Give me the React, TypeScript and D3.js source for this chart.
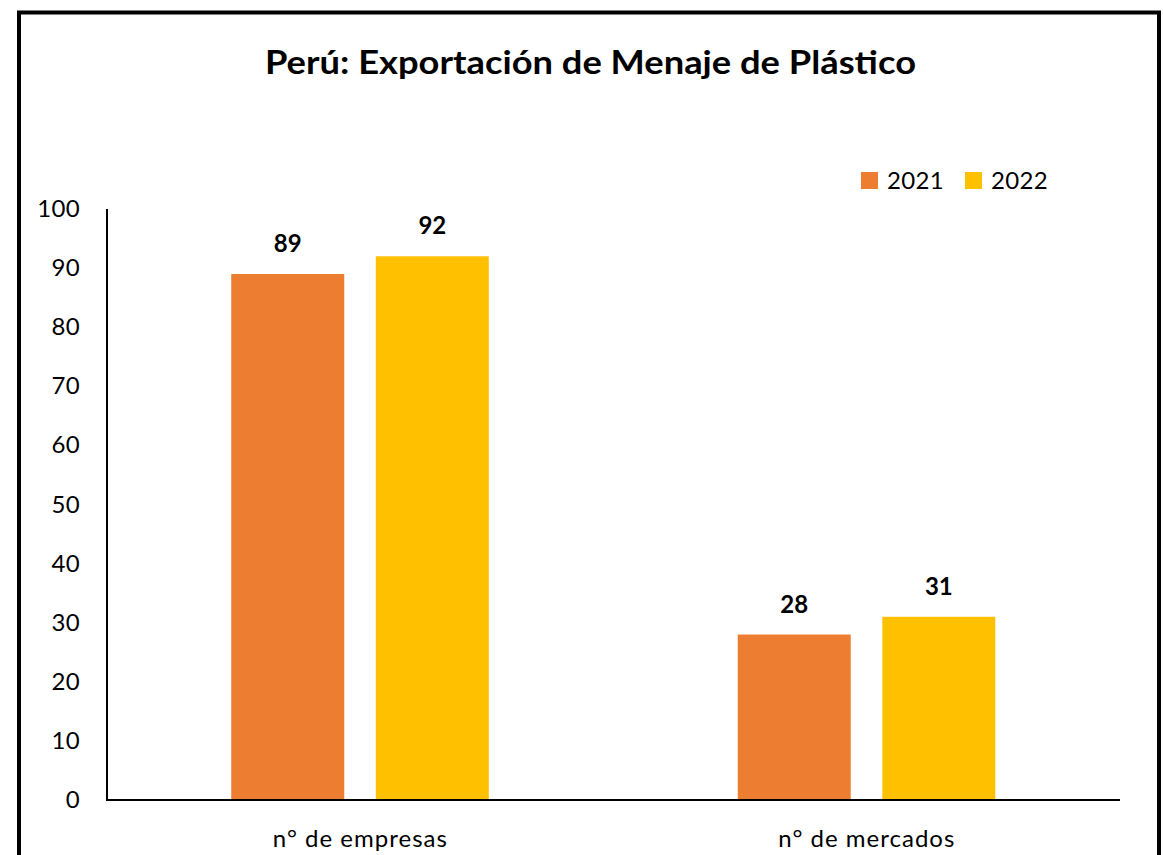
import React from "react";
import * as d3 from "d3";

const categories = ["n° de empresas", "n° de mercados"];
const seriesNames = ["2021", "2022"];
const values2021 = [89, 28];
const values2022 = [92, 31];
const yTicks = [0, 10, 20, 30, 40, 50, 60, 70, 80, 90, 100];
const colors = ["#ED7D31", "#FFC000"];

const W = 1163;
const H = 855;
const FONT = "Lato, 'Open Sans', sans-serif";

export default function App() {
  const series = [values2021, values2022];
  const x0 = d3.scaleBand<string>().domain(categories).range([107, 1120]).paddingInner(0).paddingOuter(0);
  const y = d3.scaleLinear().domain([0, 100]).range([800, 209]);
  const groupW = 258;
  const barW = 113;
  const x1 = d3.scaleBand<string>().domain(seriesNames).range([0, groupW]).paddingInner(31 / 144).paddingOuter(0);

  return (
    <svg width={W} height={H} style={{ position: "absolute", left: 0, top: 0, display: "block" }}>
      <rect x={0} y={0} width={W} height={H} fill="#fff" />
      <rect x={19} y={12.5} width={1140} height={900} fill="#fff" stroke="#000" strokeWidth={4} />
      <text x={265} y={74} textLength={651} lengthAdjust="spacingAndGlyphs" fontFamily={FONT} fontWeight="bold" fontSize={33} fill="#000">
        Perú: Exportación de Menaje de Plástico
      </text>
      {/* legend */}
      {seriesNames.map((s, i) => {
        const lx = [861, 965][i];
        return (
          <g key={s}>
            <rect x={lx} y={172} width={17} height={17} fill={colors[i]} />
            <text x={lx + 26} y={189} fontFamily={FONT} fontSize={24} letterSpacing={0.3} fill="#000">{s}</text>
          </g>
        );
      })}
      {/* y ticks */}
      {yTicks.map((t) => (
        <text key={t} x={80} y={y(t) + 8} textAnchor="end" fontFamily={FONT} fontSize={24} letterSpacing={0.3} fill="#000">{t}</text>
      ))}
      {/* bars */}
      {categories.map((c, ci) => {
        const gx = (x0(c) as number) + (x0.bandwidth() - groupW) / 2;
        return (
          <g key={c}>
            {seriesNames.map((s, si) => {
              const v = series[si][ci];
              const bx = gx + (x1(s) as number);
              return (
                <g key={s}>
                  <rect x={bx} y={y(v)} width={barW} height={y(0) - y(v)} fill={colors[si]} />
                  <text x={bx + barW / 2} y={y(v) - 22} textAnchor="middle" fontFamily={FONT} fontWeight="bold" fontSize={24} fill="#000">{v}</text>
                </g>
              );
            })}
            <text x={(x0(c) as number) + x0.bandwidth() / 2} y={847} textAnchor="middle" fontFamily={FONT} fontSize={24} letterSpacing={1} fill="#000">{c}</text>
          </g>
        );
      })}
      {/* axes */}
      <line x1={107} y1={209} x2={107} y2={801} stroke="#000" strokeWidth={2} />
      <line x1={106} y1={800} x2={1120} y2={800} stroke="#000" strokeWidth={2} />
    </svg>
  );
}
